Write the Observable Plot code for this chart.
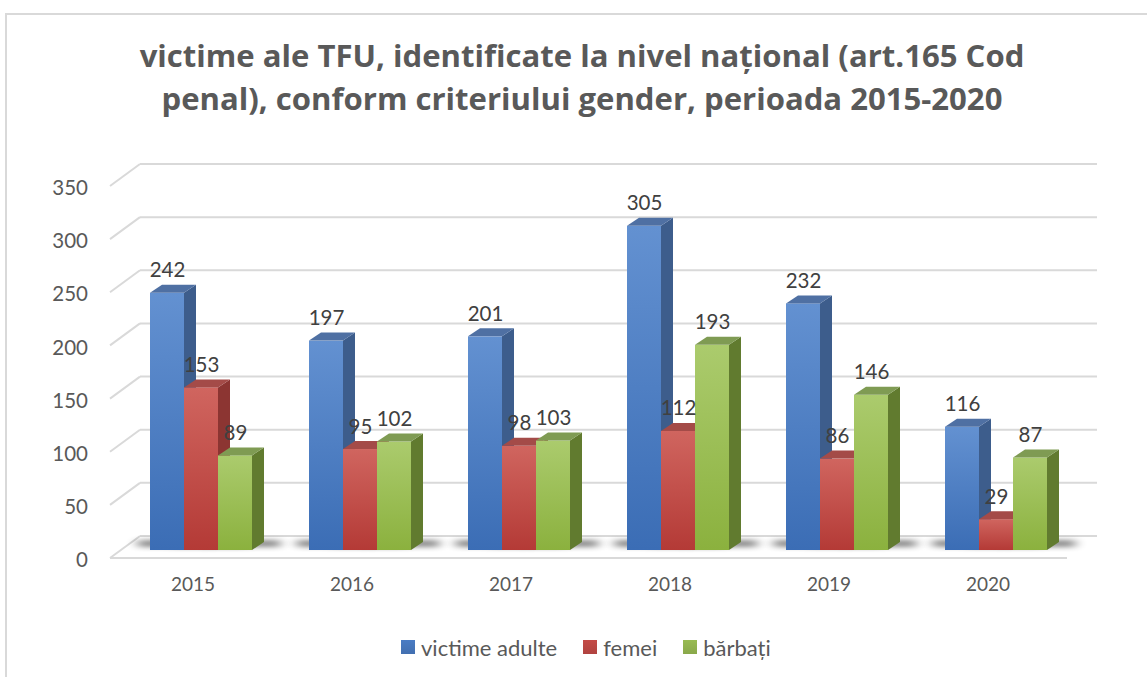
<!DOCTYPE html>
<html><head><meta charset="utf-8">
<script src="https://cdn.jsdelivr.net/npm/d3@7"></script>
<script src="https://cdn.jsdelivr.net/npm/@observablehq/plot@0.6"></script>
<style>
body{margin:0;background:#fff;font-family:Lato,"Open Sans",sans-serif;}
#wrap{position:relative;width:1147px;height:677px;overflow:hidden;background:#fff;}
#frame{position:absolute;left:5px;top:13px;width:1200px;height:700px;border-left:2px solid #d9d9d9;border-top:2px solid #d9d9d9;}
#title{position:absolute;left:0;top:0;width:1147px;text-align:center;font-family:"Open Sans",Lato,sans-serif;font-weight:bold;color:#595959;white-space:nowrap;}
#title div{position:absolute;left:0;width:1147px;text-align:center;padding-left:17px;box-sizing:border-box;line-height:1;}
#chart{position:absolute;left:0;top:150px;}
#legend{position:absolute;left:401px;top:634px;height:26px;display:flex;align-items:center;font-size:22px;color:#595959;}
.item{display:flex;align-items:center;margin-right:26px;}
.sw{width:14px;height:14px;margin-right:6px;}
</style></head>
<body>
<div id="wrap">
  <div id="frame"></div>
  <div id="title"><div id="t1"><span>victime ale TFU, identificate la nivel național (art.165 Cod</span></div><div id="t2"><span>penal), conform criteriului gender, perioada 2015-2020</span></div></div>
  <div id="chart"></div>
  <div id="legend"></div>
</div>
<script>
const years = ["2015","2016","2017","2018","2019","2020"];
const series = ["victime adulte","femei","bărbați"];
const adulte = [242,197,201,305,232,116];
const femei = [153,95,98,112,86,29];
const barbati = [89,102,103,193,146,87];
const yTicks = [0,50,100,150,200,250,300,350];
const swatch = ["#4a7cc4","#c44b47","#98bb52"];

// title fitting: line 1 spans ~885px, baselines at 68 and 111
(function() {
  const t1 = document.querySelector("#t1"), t2 = document.querySelector("#t2");
  const s1 = t1.querySelector("span");
  t1.style.fontSize = "30px"; t2.style.fontSize = "30px";
  const w = s1.getBoundingClientRect().width;
  const fs = 30 * 885 / w;
  t1.style.fontSize = fs + "px"; t2.style.fontSize = fs + "px";
  const base = (1.069 - 0.181) * fs;
  t1.style.top = (68 - base) + "px";
  t2.style.top = (111 - base) + "px";
})();

const values = [adulte, femei, barbati];
const data = years.flatMap((yr,i) => series.map((s,j) => ({year: yr, series: s, value: values[j][i]})));

const plot = Plot.plot({
  width: 1147, height: 460,
  marginLeft: 120, marginRight: 72, marginTop: 28, marginBottom: 60,
  fx: {domain: years, padding: 0, axis: null},
  x: {domain: series, paddingInner: 0, paddingOuter: 0.774, axis: null},
  y: {domain: [0,350], axis: null},
  color: {domain: series, range: ["url(#gBlue)","url(#gRed)","url(#gGreen)"]},
  style: {fontFamily: "Lato, 'Open Sans', sans-serif", background: "transparent", overflow: "visible"},
  marks: [
    Plot.barY(data, {fx: "year", x: "series", y: "value", fill: "series"}),
    Plot.text(data, {fx: "year", x: "series", y: "value", text: d => String(d.value), dy: -16, lineAnchor: "bottom", fontSize: 20.5, fill: "#404040"}),
    Plot.text(years, {fx: d => d, text: d => d, frameAnchor: "bottom", dy: 40, dx: -8, fontSize: 19, fill: "#595959"})
  ]
});
document.getElementById("chart").appendChild(plot);

const svg = d3.select(plot);
const ys = plot.scale("y");
const Y = v => ys.apply(v);

// gradients
const defs = svg.insert("defs", ":first-child");
function grad(id, c1, c2) {
  const g = defs.append("linearGradient").attr("id", id).attr("x1", 0).attr("y1", 0).attr("x2", 0).attr("y2", 1);
  g.append("stop").attr("offset", "0%").attr("stop-color", c1);
  g.append("stop").attr("offset", "100%").attr("stop-color", c2);
}
grad("gBlue", "#6391d1", "#3b6db5");
grad("gRed", "#d0655f", "#b43a36");
grad("gGreen", "#abcb6d", "#8bb13e");
defs.append("filter").attr("id", "blur").attr("x", "-20%").attr("y", "-200%").attr("width", "140%").attr("height", "500%")
  .append("feGaussianBlur").attr("stdDeviation", "6 2.5");

// background: walls, gridlines, ticks
const bg = svg.insert("g", "g");
const L0 = 110, L1 = 140, R1 = 1097, R0 = 1067, back = -14, front = 8;
for (const v of yTicks) {
  const y = Y(v);
  bg.append("line").attr("x1", L1).attr("x2", R1).attr("y1", y + back).attr("y2", y + back).attr("stroke", "#d9d9d9").attr("stroke-width", 2);
  bg.append("line").attr("x1", L0).attr("x2", L1).attr("y1", y + front).attr("y2", y + back).attr("stroke", "#d9d9d9").attr("stroke-width", 2);
  bg.append("text").attr("x", 88).attr("y", y + 10).attr("dy", "0.35em").attr("text-anchor", "end")
    .attr("font-size", 20.5).attr("fill", "#595959").text(v);
}
const y0 = Y(0);
bg.append("line").attr("x1", L0).attr("x2", R0).attr("y1", y0 + front).attr("y2", y0 + front).attr("stroke", "#d9d9d9").attr("stroke-width", 2);

// 3D faces and cast shadows
const dX = 12, dY = -8;
const ns = "http://www.w3.org/2000/svg";
const sideCol = {"url(#gBlue)": "#3d5d8c", "url(#gRed)": "#8c3532", "url(#gGreen)": "#617b2f"};
const topCol = {"url(#gBlue)": "#4f70a3", "url(#gRed)": "#a44b48", "url(#gGreen)": "#7f9b53"};
svg.selectAll('g[aria-label="bar"] rect').each(function() {
  const r = d3.select(this);
  const x = +r.attr("x"), y = +r.attr("y"), w = +r.attr("width"), h = +r.attr("height");
  const f = r.attr("fill");
  const parent = this.parentNode;
  let sh = parent.querySelector("g.shadow");
  if (!sh) { sh = document.createElementNS(ns, "g"); sh.setAttribute("class", "shadow"); sh.setAttribute("opacity", 0.45); parent.insertBefore(sh, parent.firstChild); }
  const s = document.createElementNS(ns, "rect");
  s.setAttribute("x", x - 12); s.setAttribute("width", w + 40);
  s.setAttribute("y", y + h - 10); s.setAttribute("height", 7);
  s.setAttribute("fill", "#000"); s.setAttribute("filter", "url(#blur)");
  sh.appendChild(s);
  const side = document.createElementNS(ns, "polygon");
  side.setAttribute("points", `${x+w},${y} ${x+w+dX},${y+dY} ${x+w+dX},${y+h+dY} ${x+w},${y+h}`);
  side.setAttribute("fill", sideCol[f]);
  const top = document.createElementNS(ns, "polygon");
  top.setAttribute("points", `${x},${y} ${x+dX},${y+dY} ${x+w+dX},${y+dY} ${x+w},${y}`);
  top.setAttribute("fill", topCol[f]);
  parent.insertBefore(top, this.nextSibling);
  parent.insertBefore(side, this.nextSibling);
});

// legend
const leg = d3.select("#legend");
series.forEach((s, i) => {
  const it = leg.append("div").attr("class", "item");
  it.append("div").attr("class", "sw").style("background", `linear-gradient(${swatch[i]}, ${d3.color(swatch[i]).darker(0.3)})`);
  it.append("span").text(s);
});
</script>
</body></html>
